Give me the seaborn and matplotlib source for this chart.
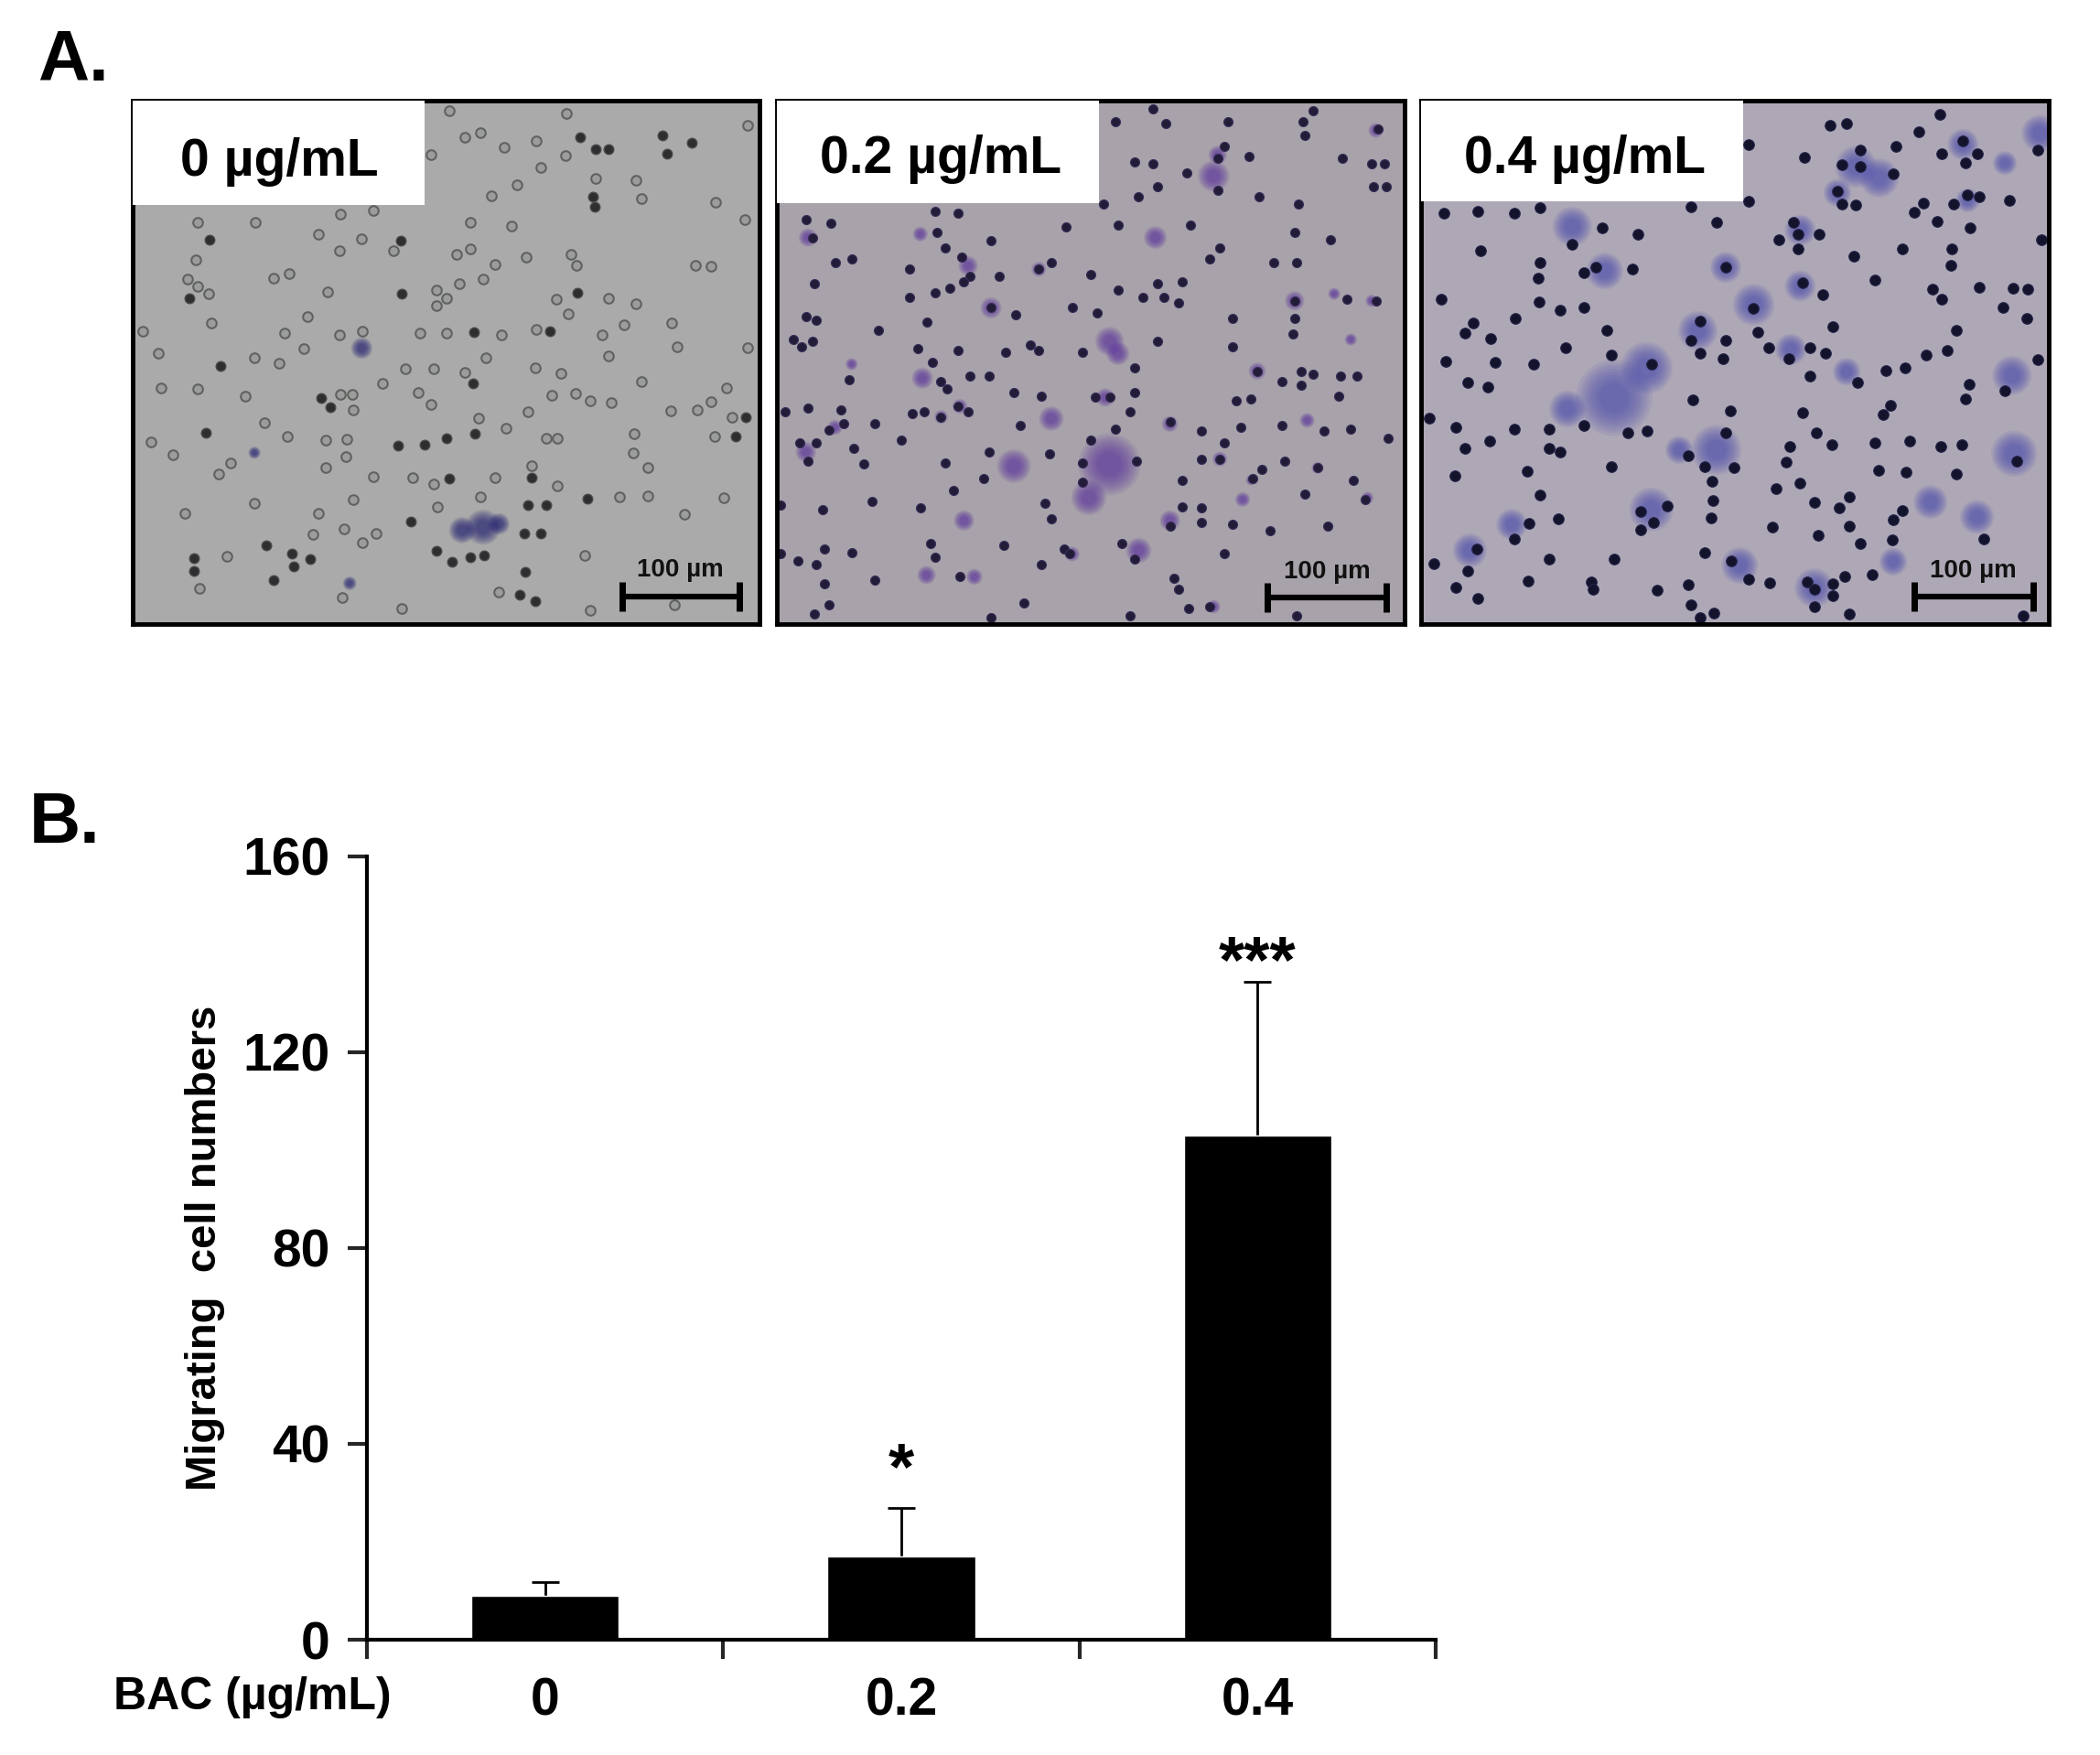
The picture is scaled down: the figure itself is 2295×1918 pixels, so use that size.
import matplotlib
matplotlib.use("Agg")
import matplotlib.pyplot as plt
from matplotlib.patches import Rectangle
import numpy as np
import pandas as pd
import seaborn as sns

# bar chart values
doses = ["0", "0.2", "0.4"]
cell_numbers = [9, 17, 103]
cell_errors = [2.8, 10, 31.3]
sig_marks = ["", "*", "***"]
sig_heights = [0, 28, 131.5]
y_ticks = [0, 40, 80, 120, 160]

# micrograph cells in crop coordinates (x, y)
cells_0_pale = [(855,262),(1080,270),(1425,298),(885,325),(915,315),(960,350),(1022,335),(1078,370),(820,368),(1030,398),(1135,425),(1212,428),(985,440),(935,465),(1222,472),(1365,482),(1420,522),(375,530),(485,530),(648,510),(710,500),(895,530),(975,538),(605,558),(688,568),(645,596),(748,598),(870,605),(895,592),(1003,612),(1088,605),(1098,632),(1325,632),(1355,635),(942,630),(370,618),(920,665),(550,652),(520,662),(355,665),(375,682),(395,700),(875,675),(622,695),(830,692),(850,710),(830,728),(1060,712),(1160,710),(1212,724),(1082,748),(400,770),(270,790),(585,755),(690,790),(540,795),(645,798),(800,795),(850,795),(955,798),(1022,785),(1190,775),(1148,798),(1280,770),(1290,826),(1425,830),(300,843),(578,832),(482,853),(530,865),(925,853),(1160,848),(1020,877),(772,880),(825,880),(885,888),(1068,890),(728,915),(1222,910),(305,925),(375,928),(795,935),(1052,943),(1097,938),(1125,955),(1385,925),(465,945),(648,940),(670,940),(672,978),(820,965),(1165,960),(1330,978),(1355,958),(1278,980),(1005,982),(912,998),(1395,995),(502,1008),(285,1055),(620,1050),(660,1048),(545,1042),(963,1022),(1062,1045),(1040,1045),(1208,1035),(1362,1040),(328,1085),(658,1090),(438,1105),(1207,1080),(620,1115),(1012,1110),(1235,1115),(415,1130),(785,1140),(825,1155),(942,1140),(710,1138),(1062,1160),(915,1185),(483,1200),(672,1193),(1180,1185),(1235,1183),(1380,1188),(605,1225),(832,1210),(350,1225),(1305,1228),(655,1262),(715,1272),(595,1275),(690,1295),(1115,1325),(430,1328),(378,1405),(650,1425),(765,1453),(1125,1457),(1285,1443),(950,1412)]
cells_0_dark = [(1105,325),(1135,355),(1160,355),(1262,322),(1272,365),(1318,340),(1130,468),(1133,492),(397,570),(762,572),(358,710),(765,700),(1100,697),(902,792),(1048,790),(418,873),(900,915),(610,950),(628,972),(1422,995),(390,1032),(905,1035),(1403,1042),(758,1063),(808,1060),(850,1045),(855,1142),(1012,1140),(1120,1190),(1005,1205),(1040,1205),(782,1245),(998,1272),(1030,1272),(505,1302),(830,1315),(860,1340),(895,1330),(922,1325),(368,1332),(555,1320),(590,1335),(558,1352),(368,1362),(1000,1365),(520,1385),(990,1420),(1020,1435)]
stains_0 = [(688,830,120),(483,1080,40),(920,1258,320),(880,1265,180),(950,1250,120),(665,1392,50)]

cells_2 = [(815,90),(905,55),(935,95),(1085,90),(1265,90),(1290,60),(1270,130),(1445,110),(1075,160),(1060,195),(860,205),(905,210),(985,235),(1135,190),(1360,195),(1430,210),(1460,210),(915,275),(1060,285),(1465,275),(1435,275),(870,305),(1160,305),(1255,325),(785,325),(70,370),(130,380),(380,345),(435,350),(820,385),(695,390),(995,385),(1245,405),(1330,425),(515,430),(85,420),(385,405),(180,480),(140,490),(405,450),(445,475),(320,510),(1065,450),(1040,480),(1195,490),(1250,490),(630,510),(660,490),(535,530),(755,525),(465,530),(90,550),(915,550),(975,545),(450,545),(380,578),(415,565),(320,590),(880,590),(930,590),(965,605),(820,570),(1245,600),(1370,595),(1440,600),(515,620),(575,640),(710,620),(770,635),(1095,650),(360,660),(70,645),(95,655),(1245,650),(245,685),(1240,695),(915,715),(85,715),(40,710),(60,730),(610,725),(630,740),(435,740),(340,735),(550,745),(1095,730),(735,745),(1155,800),(1260,800),(1290,810),(1355,815),(1395,815),(375,775),(465,815),(510,815),(175,825),(395,830),(860,790),(410,850),(1260,840),(1215,830),(570,860),(635,870),(765,875),(800,875),(860,860),(1140,880),(1105,885),(1350,870),(75,905),(155,910),(20,915),(435,900),(355,915),(325,920),(460,915),(850,915),(395,930),(235,950),(585,955),(125,968),(160,950),(1115,960),(815,965),(1020,970),(1315,970),(1380,965),(1215,955),(945,945),(1470,990),(300,995),(755,995),(1075,1005),(185,1020),(55,1005),(95,1005),(510,1030),(655,1035),(75,1055),(405,1060),(1020,1050),(1065,1050),(865,1055),(1220,1055),(210,1065),(735,1060),(1165,1080),(1300,1075),(498,1105),(1145,1105),(735,1115),(1385,1110),(975,1110),(425,1140),(1270,1150),(230,1170),(10,1180),(345,1190),(645,1175),(975,1185),(110,1195),(1020,1190),(1415,1165),(660,1220),(1020,1230),(945,1240),(1095,1235),(1185,1255),(1325,1240),(370,1290),(545,1295),(830,1290),(115,1305),(690,1305),(705,1320),(180,1315),(1075,1320),(860,1335),(380,1330),(10,1320),(95,1350),(635,1350),(50,1340),(955,1390),(440,1385),(115,1405),(965,1420),(235,1395),(125,1465),(595,1460),(990,1475),(90,1490),(850,1495),(515,1500),(1250,1495),(1040,1470)]
stains_2 = [(1050,245,260),(1060,185,90),(1440,115,60),(75,420,90),(345,410,60),(910,420,140),(460,500,100),(630,510,60),(515,620,120),(1245,600,100),(1340,580,40),(1430,600,40),(800,715,220),(820,750,140),(350,820,120),(440,900,60),(790,875,90),(660,935,160),(395,930,50),(1155,800,80),(945,950,70),(140,960,60),(70,1030,110),(1065,1050,60),(570,1070,300),(800,1065,1000),(750,1160,320),(1120,1165,60),(1140,1110,30),(450,1225,110),(945,1225,110),(870,1310,170),(710,1320,60),(360,1380,90),(475,1385,70),(1275,940,60),(1300,1075,40),(180,780,40),(1420,1160,40),(1050,1470,50),(1380,710,40)]

cells_4 = [(1220,110),(985,140),(1020,135),(1175,155),(1270,180),(810,190),(1125,195),(930,225),(1050,205),(1300,215),(1225,215),(1275,240),(1430,205),(1010,245),(1050,250),(1120,270),(1000,315),(1010,350),(1040,352),(1185,348),(1250,350),(1280,325),(1305,330),(1370,340),(1165,372),(810,342),(155,375),(228,370),(305,375),(360,360),(685,358),(1215,397),(1285,415),(740,400),(905,400),(915,430),(960,430),(875,445),(495,415),(572,432),(430,457),(232,475),(915,470),(1140,470),(1245,470),(1438,445),(1035,490),(360,507),(1243,515),(455,535),(480,520),(560,525),(760,520),(357,550),(1080,553),(925,560),(1205,578),(1305,573),(1378,575),(1410,578),(968,592),(1225,605),(148,605),(358,612),(405,635),(455,628),(820,630),(1355,628),(1408,658),(218,670),(308,658),(705,665),(200,697),(990,680),(505,690),(828,695),(1255,690),(255,712),(685,715),(760,715),(852,735),(415,735),(705,750),(940,735),(1235,742),(1190,755),(515,755),(975,750),(895,765),(755,765),(158,772),(265,775),(348,780),(600,780),(1430,768),(1105,797),(1145,790),(940,812),(205,830),(1043,830),(248,840),(1283,833),(1360,850),(1275,872),(690,875),(1115,890),(770,905),(925,910),(1098,915),(122,925),(455,945),(180,950),(380,955),(305,955),(550,963),(590,960),(760,963),(955,965),(1155,985),(1080,990),(253,987),(200,1005),(380,1005),(988,997),(897,1000),(1222,1000),(1268,997),(405,1015),(680,1025),(890,1043),(715,1055),(778,1057),(515,1055),(1385,1040),(1088,1065),(1147,1070),(333,1068),(178,1080),(1255,1075),(730,1095),(920,1098),(868,1115),(360,1130),(1025,1135),(733,1145),(950,1150),(1003,1165),(635,1160),(1140,1172),(578,1175),(1120,1198),(728,1192),(605,1205),(400,1195),(338,1207),(860,1218),(578,1225),(958,1240),(1025,1215),(1315,1250),(1118,1252),(1050,1260),(305,1250),(225,1275),(715,1285),(380,1303),(520,1303),(133,1315),(772,1307),(205,1335),(810,1357),(1015,1350),(935,1365),(855,1367),(335,1363),(470,1365),(680,1372),(180,1378),(950,1385),(990,1370),(1075,1345),(612,1387),(475,1385),(228,1408),(990,1402),(685,1425),(950,1430),(735,1447),(1025,1450),(705,1460),(1400,1455)]
stains_4 = [(520,870,1500),(590,790,700),(1040,250,450),(1090,280,400),(1435,160,350),(760,520,250),(820,620,450),(700,690,400),(740,1010,650),(600,1170,500),(1375,810,400),(1380,1020,550),(210,1280,300),(300,1210,250),(790,1320,350),(950,1380,400),(1200,1150,300),(1300,1190,300),(430,410,400),(500,530,350),(920,570,250),(920,420,250),(900,740,250),(1020,800,200),(1120,1310,200),(1270,190,250),(1360,240,150),(1280,340,150),(1000,320,200),(420,900,350),(660,1010,200)]

plt.rcParams["figure.dpi"] = 100
sns.set_theme(style="white")
plt.rcParams["font.family"] = ["Liberation Sans", "DejaVu Sans"]
plt.rcParams["font.weight"] = "bold"

W, H = 1568.0, 1310.0  # layout measured on a 1568 wide view of the figure


def box(x0, y0, x1, y1):
    return [x0 / W, 1 - y1 / H, (x1 - x0) / W, (y1 - y0) / H]


def draw_panel(ax, lims, bg, cells, stains, label, label_xy, white, scale):
    ax.set_facecolor(bg)
    stain = np.array(stains)
    # stacked see-through layers so the stain fades out at the edge
    for grow in [2.4, 2.0, 1.7, 1.4, 1.15, 0.9, 0.7, 0.5, 0.35]:
        ax.scatter(stain[:, 0], stain[:, 1], s=stain[:, 2] * grow, color=cells["stain"], alpha=0.11, linewidth=0)
    for pts, kw in cells["layers"]:
        pts = np.array(pts)
        sns.scatterplot(x=pts[:, 0], y=pts[:, 1], ax=ax, legend=False, **kw)
    ax.set_xlim(lims[0], lims[1])
    ax.set_ylim(lims[3], lims[2])
    ax.set_xticks([])
    ax.set_yticks([])
    for s in ax.spines.values():
        s.set_visible(True)
        s.set_color("black")
        s.set_linewidth(3.5)
    ax.add_patch(Rectangle((lims[0], lims[2]), white[0] - lims[0], white[1] - lims[2], color="white", zorder=5, linewidth=0))
    ax.text(label_xy[0], label_xy[1], label, ha="center", va="center", fontsize=41, fontweight="bold", color="black", zorder=6)
    # scale bar
    x0, x1, y = scale
    ax.plot([x0, x1], [y, y], color="black", lw=4.5, solid_capstyle="butt", zorder=6)
    cap = (lims[3] - lims[2]) * 0.028
    ax.vlines([x0, x1], y - cap, y + cap, color="black", lw=5, zorder=6)
    ax.text((x0 + x1) / 2, y - cap * 0.95, "100 µm", ha="center", va="bottom", fontsize=20, fontweight="bold", color="#111111", zorder=6)


fig = plt.figure(figsize=(22.95, 19.18))
fig.patch.set_facecolor("white")

pale = dict(s=58, facecolor="#9c9c9c", edgecolor="#5f635f", linewidth=1.5)
dark = dict(s=58, facecolor="#2e2e30", edgecolor="#4a4a4a", linewidth=1.0)
violet = dict(s=52, facecolor="#231c38", edgecolor="#3a2f5a", linewidth=0.8)
blue = dict(s=70, facecolor="#13132c", edgecolor="#24244a", linewidth=0.8)

ax1 = fig.add_axes(box(99, 75, 567, 466))
draw_panel(ax1, (250, 1448, 238, 1490), "#a9aaa9",
           {"stain": "#1f1a70", "layers": [(cells_0_pale, pale), (cells_0_dark, dark)]},
           stains_0, "0 µg/mL", (530, 386), (808, 487), (1185, 1410, 1423))
ax2 = fig.add_axes(box(580, 75, 1049, 466))
draw_panel(ax2, (0, 1510, 30, 1520), "#a8a3aa",
           {"stain": "#5a2f9e", "layers": [(cells_2, violet)]},
           stains_2, "0.2 µg/mL", (393, 196), (775, 322), (1180, 1465, 1445))
ax3 = fig.add_axes(box(1061, 75, 1530, 466))
draw_panel(ax3, (105, 1455, 72, 1478), "#aea8b6",
           {"stain": "#4a4cae", "layers": [(cells_4, blue)]},
           stains_4, "0.4 µg/mL", (458, 230), (798, 342), (1165, 1420, 1404))

# panel B
ax = fig.add_axes(box(274, 639, 1072, 1224))
df = pd.DataFrame({"dose": doses, "cells": cell_numbers})
sns.barplot(data=df, x="dose", y="cells", color="black", saturation=1, width=0.415, errorbar=None, ax=ax)
# symmetric bars behind the columns, only the upper half shows
ax.errorbar(range(len(doses)), cell_numbers, yerr=cell_errors, fmt="none",
            ecolor="black", elinewidth=2, capsize=11, capthick=2, zorder=0.5)
for i, mark in enumerate(sig_marks):
    if mark:
        ax.text(i, sig_heights[i], mark, ha="center", va="bottom", fontsize=52, fontweight="bold", color="black")

ax.set_xlim(-0.5, 2.5)
ax.set_ylim(0, 160)
ax.set_yticks(y_ticks)
ax.set_xticks([-0.5, 0.5, 1.5, 2.5])
ax.set_xticklabels([])
ax.set_xticks(range(len(doses)), labels=doses, minor=True)
ax.tick_params(axis="x", which="major", length=15, width=3, direction="out", bottom=True)
ax.tick_params(axis="x", which="minor", length=0, pad=29, labelsize=41, labelcolor="black", bottom=True)
ax.tick_params(axis="y", length=15, width=3, direction="out", left=True, pad=14, labelsize=41, labelcolor="black")
for label in ax.get_xticklabels(minor=True) + ax.get_yticklabels():
    label.set_fontweight("bold")
ax.set_xlabel("")
ax.set_ylabel("Migrating  cell numbers", fontsize=34, fontweight="bold", color="black", labelpad=14)
sns.despine(ax=ax)
for side in ["left", "bottom"]:
    ax.spines[side].set_linewidth(3)
    ax.spines[side].set_color("black")
ax.patch.set_alpha(0)

fig.text(85 / W, 1 - 1267 / H, "BAC (µg/mL)", ha="left", va="center", fontsize=36, fontweight="bold", color="black")
fig.text(28 / W, 1 - 60 / H, "A.", ha="left", va="baseline", fontsize=56, fontweight="bold", color="black")
fig.text(22 / W, 1 - 629 / H, "B.", ha="left", va="baseline", fontsize=56, fontweight="bold", color="black")

fig.savefig("out.png", dpi=100, facecolor="white")
